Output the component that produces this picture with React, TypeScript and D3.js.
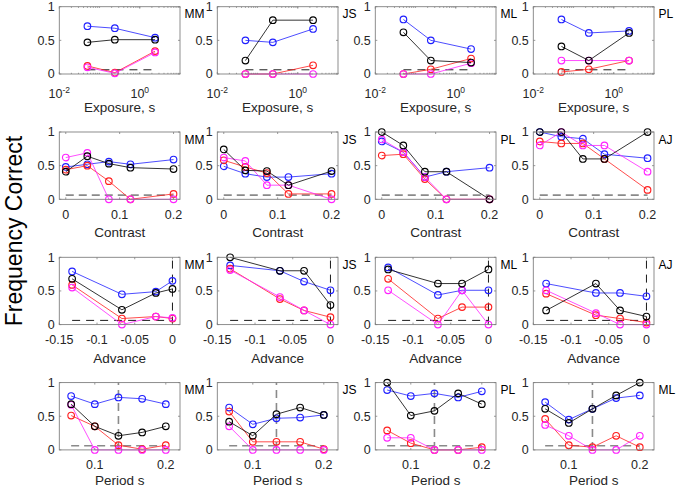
import React, { useEffect, useRef } from 'react';
import * as d3 from 'd3';

// ---- data ----
const exposureSubjects = ['MM', 'JS', 'ML', 'PL'];
const exposureX = [0.05, 0.24, 2.4];
const exposureBlue = [[0.71, 0.68, 0.54], [0.5, 0.47, 0.67], [0.81, 0.5, 0.37], [0.81, 0.61, 0.64]];
const exposureBlack = [[0.47, 0.51, 0.51], [0.2, 0.8, 0.8], [0.62, 0.2, 0.17], [0.41, 0.2, 0.61]];
const exposureRed = [[0.12, 0.02, 0.34], [0, 0, 0.13], [0, 0.07, 0.23], [0.03, 0.07, 0.2]];
const exposureMagenta = [[0.1, 0.01, 0.32], [0, 0, 0], [0, 0, 0.16], [0.2, 0.2, 0.2]];

const contrastSubjects = ['MM', 'JS', 'PL', 'AJ'];
const contrastX = [0, 0.04, 0.08, 0.12, 0.2];
const contrastBlue = [[0.48, 0.52, 0.56, 0.52, 0.59], [0.49, 0.38, 0.33, 0.33, 0.38], [0.86, 0.7, 0.33, 0.41, 0.47], [1, 0.93, 0.9, 0.67, 0.61]];
const contrastBlack = [[0.41, 0.64, 0.53, 0.47, 0.45], [0.74, 0.43, 0.42, 0.21, 0.42], [1, 0.8, 0.41, 0.41, 0], [1, 1, 0.6, 0.6, 1]];
const contrastRed = [[0.44, 0.5, 0.27, 0, 0.08], [0.58, 0.48, 0.39, 0.08, 0.08], [0.65, 0.67, 0.3, 0, 0], [0.86, 0.83, 0.83, 0.6, 0.14]];
const contrastMagenta = [[0.62, 0.69, 0, 0, 0], [0.62, 0.57, 0.21, 0.21, 0], [0.89, 0.7, 0.33, 0, 0], [0.8, 1, 0.8, 0.8, 0.41]];

const advanceSubjects = ['MM', 'JS', 'ML', 'AJ'];
const advanceX = [[-0.133, -0.067, -0.022, 0], [-0.133, -0.067, -0.035, 0], [-0.133, -0.067, -0.035, 0], [-0.133, -0.067, -0.035, 0]];
const advanceBlue = [[0.79, 0.45, 0.49, 0.65], [0.88, 0.8, 0.64, 0.51], [0.85, 0.44, 0.51, 0.51], [0.61, 0.47, 0.47, 0.42]];
const advanceBlack = [[0.68, 0.22, 0.47, 0.53], [1, 0.8, 0.8, 0.29], [0.82, 0.61, 0.61, 0.82], [0.21, 0.61, 0.21, 0.12]];
const advanceRed = [[0.59, 0.09, 0.12, 0.09], [0.83, 0.38, 0.21, 0.11], [0.68, 0.09, 0.26, 0.26], [0.46, 0.14, 0.09, 0.03]];
const advanceMagenta = [[0.55, 0, 0.12, 0.1], [0.81, 0.41, 0.21, 0], [0.51, 0, 0.51, 0], [0.51, 0.17, 0, 0]];

const periodSubjects = ['MM', 'JS', 'PL', 'ML'];
const periodX = [0.0667, 0.1, 0.1333, 0.1667, 0.2];
const periodBlue = [[0.8, 0.68, 0.78, 0.76, 0.68], [0.63, 0.38, 0.47, 0.48, 0.52], [0.89, 0.8, 0.84, 0.78, 0.87], [0.71, 0.45, 0.61, 0.77, 0.81]];
const periodBlack = [[0.68, 0.35, 0.21, 0.26, 0.35], [0.42, 0.21, 0.53, 0.63, 0.52], [1, 0.51, 0.58, 0.84, 0.68], [0.61, 0.4, 0.61, 0.81, 1]];
const periodRed = [[0.51, 0.35, 0.07, 0.01, 0.07], [0.57, 0.12, 0.12, 0.12, 0.01], [0.29, 0.1, 0, 0, 0.04], [0.46, 0.07, 0.04, 0.21, 0.04]];
const periodMagenta = [[0.67, 0, 0, 0, 0], [0.35, 0, 0, 0, 0], [0.18, 0.18, 0, 0, 0], [0.37, 0.21, 0, 0, 0.21]];

const yTicks = [0, 0.5, 1];
const yTickLabels = ['0', '0.5', '1'];
const chance = 1 / 16;

const FONT = "'Liberation Sans', Arial, Helvetica, sans-serif";
const TEXT = '#262626';

const rows = [
  {
    subjects: exposureSubjects, xs: exposureSubjects.map(() => exposureX),
    series: [exposureBlue, exposureRed, exposureMagenta, exposureBlack],
    log: true, xlim: [0.01, 10], ticks: [0.01, 1], tickLabels: [['10', '-2'], ['10', '0']],
    xlabel: 'Exposure, s', chanceColor: '#000', vline: null as number | null,
  },
  {
    subjects: contrastSubjects, xs: contrastSubjects.map(() => contrastX),
    series: [contrastBlue, contrastRed, contrastMagenta, contrastBlack],
    log: false, xlim: [-0.012, 0.212], ticks: [0, 0.1, 0.2], tickLabels: ['0', '0.1', '0.2'],
    xlabel: 'Contrast', chanceColor: '#8a8a8a', vline: null,
  },
  {
    subjects: advanceSubjects, xs: advanceX,
    series: [advanceBlue, advanceRed, advanceMagenta, advanceBlack],
    log: false, xlim: [-0.15, 0.01], ticks: [-0.15, -0.1, -0.05, 0], tickLabels: ['-0.15', '-0.1', '-0.05', '0'],
    xlabel: 'Advance', chanceColor: '#000', vline: 0,
  },
  {
    subjects: periodSubjects, xs: periodSubjects.map(() => periodX),
    series: [periodBlue, periodRed, periodMagenta, periodBlack],
    log: false, xlim: [0.05, 0.22], ticks: [0.1, 0.2], tickLabels: ['0.1', '0.2'],
    xlabel: 'Period s', chanceColor: '#8a8a8a', vline: periodX[2],
  },
];
const seriesColors = ['#1f1fff', '#ff1f1f', '#ff22ff', '#000000'];

const App = () => {
  const ref = useRef<SVGSVGElement>(null);

  useEffect(() => {
    if (!ref.current) return;
    const svg = d3.select(ref.current);
    svg.selectAll('*').remove();

    const w = 120.7;
    const h = 67.3;

    rows.forEach((row, r) => {
      row.subjects.forEach((subj, c) => {
        const left = 59.3 + c * 158;
        const top = 6.7 + r * 125.3;
        const g = svg.append('g').attr('transform', `translate(${left},${top})`);

        const x: any = row.log
          ? d3.scaleLog().domain(row.xlim).range([0, w])
          : d3.scaleLinear().domain(row.xlim).range([0, w]);
        const y = d3.scaleLinear().domain([0, 1]).range([h, 0]);
        const xs = row.xs[c];
        const gray = row.chanceColor !== '#000';

        // chance level
        g.append('line')
          .attr('x1', x(xs[0]))
          .attr('x2', x(xs[xs.length - 1]))
          .attr('y1', y(chance)).attr('y2', y(chance))
          .attr('stroke', row.chanceColor)
          .attr('stroke-width', gray ? 1.6 : 0.9)
          .attr('stroke-dasharray', gray ? '8,5' : '8,6');

        if (row.vline !== null) {
          g.append('line')
            .attr('x1', x(row.vline)).attr('x2', x(row.vline))
            .attr('y1', y(0)).attr('y2', y(1))
            .attr('stroke', row.chanceColor)
            .attr('stroke-width', gray ? 1.6 : 0.9)
            .attr('stroke-dasharray', gray ? '8,5' : '8,6');
        }

        // series
        const line = d3.line<number>().x((_, i) => x(xs[i])).y(d => y(d));
        row.series.forEach((s, k) => {
          const vals = s[c];
          g.append('path')
            .attr('d', line(vals))
            .attr('fill', 'none')
            .attr('stroke', seriesColors[k])
            .attr('stroke-width', 0.8);
          g.selectAll(null)
            .data(vals)
            .enter()
            .append('circle')
            .attr('cx', (_, i) => x(xs[i]))
            .attr('cy', d => y(d))
            .attr('r', 3.3)
            .attr('fill', 'none')
            .attr('stroke', seriesColors[k])
            .attr('stroke-width', 1.15);
        });

        // box
        g.append('rect')
          .attr('width', w).attr('height', h)
          .attr('fill', 'none')
          .attr('stroke', '#808080')
          .attr('stroke-width', 0.9);

        // ticks (inside, on both sides)
        const tk = g.append('g').attr('stroke', '#808080').attr('stroke-width', 0.8);
        row.ticks.forEach(t => {
          tk.append('line').attr('x1', x(t)).attr('x2', x(t)).attr('y1', h).attr('y2', h - 2);
          tk.append('line').attr('x1', x(t)).attr('x2', x(t)).attr('y1', 0).attr('y2', 2);
        });
        if (row.log) {
          const minor: number[] = [];
          [0.01, 0.1, 1].forEach(d => d3.range(2, 11).forEach(m => minor.push(d * m)));
          minor.forEach(t => {
            tk.append('line').attr('x1', x(t)).attr('x2', x(t)).attr('y1', h).attr('y2', h - 1.2);
            tk.append('line').attr('x1', x(t)).attr('x2', x(t)).attr('y1', 0).attr('y2', 1.2);
          });
        }
        yTicks.forEach(t => {
          tk.append('line').attr('x1', 0).attr('x2', 2).attr('y1', y(t)).attr('y2', y(t));
          tk.append('line').attr('x1', w).attr('x2', w - 2).attr('y1', y(t)).attr('y2', y(t));
        });

        // y tick labels
        yTicks.forEach((t, i) => {
          g.append('text')
            .attr('x', -4.5).attr('y', y(t) + 4.4)
            .attr('text-anchor', 'end')
            .style('font-family', FONT).style('font-size', '12.5px').style('fill', TEXT)
            .text(yTickLabels[i]);
        });

        // x tick labels
        row.ticks.forEach((t, i) => {
          const lab = row.tickLabels[i];
          if (Array.isArray(lab)) {
            const tx = g.append('text')
              .attr('x', x(t)).attr('y', h + 24.5)
              .attr('text-anchor', 'middle')
              .style('font-family', FONT).style('font-size', '12.5px').style('fill', TEXT);
            tx.append('tspan').text(lab[0]);
            tx.append('tspan').attr('dy', -5.5).style('font-size', '8.5px').text(lab[1]);
          } else {
            g.append('text')
              .attr('x', x(t)).attr('y', h + 19.5)
              .attr('text-anchor', 'middle')
              .style('font-family', FONT).style('font-size', '12.5px').style('fill', TEXT)
              .text(lab);
          }
        });

        // x label
        g.append('text')
          .attr('x', w / 2).attr('y', r === 3 ? h + 35.5 : h + 38)
          .attr('text-anchor', 'middle')
          .style('font-family', FONT).style('font-size', '13.5px').style('fill', TEXT)
          .text(row.xlabel);

        // subject label
        g.append('text')
          .attr('x', w + 4.5).attr('y', 11.5)
          .style('font-family', FONT).style('font-size', '12px').style('fill', '#000')
          .text(subj);
      });
    });

    // shared y label
    svg.append('text')
      .attr('transform', 'translate(21.5,231) rotate(-90)')
      .attr('text-anchor', 'middle')
      .style('font-family', FONT).style('font-size', '23px').style('fill', '#000')
      .text('Frequency Correct');
  }, []);

  return (
    <svg
      ref={ref}
      width={685}
      height={489}
      style={{ position: 'absolute', left: 0, top: 0, background: '#fff' }}
    />
  );
};

export default App;
